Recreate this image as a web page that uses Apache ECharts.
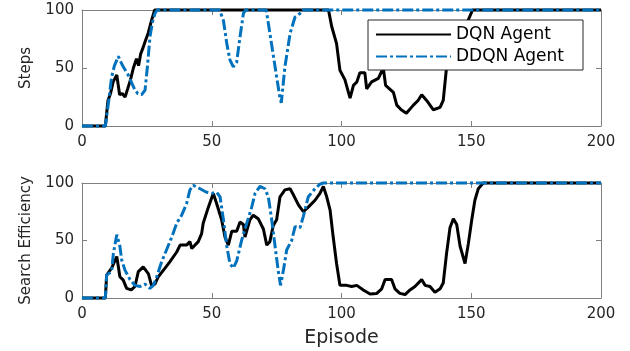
<!DOCTYPE html>
<html>
<head>
<meta charset="utf-8">
<script src="https://cdn.jsdelivr.net/npm/echarts@6/dist/echarts.min.js"></script>
<style>html,body{margin:0;padding:0;background:#fff}#c{width:630px;height:351px}</style>
</head>
<body>
<div id="c"></div>
<script>
// ---- data ----
const xTicks = [0, 50, 100, 150, 200];
const yTicks = [0, 50, 100];

const stepsDqnEp = [0,9,10,11,12,13.4,14.5,15.5,16.6,17.6,18.7,19.8,21,21.8,22.6,23.6,24.5,25.5,26.8,28,95,96.2,98.1,99.4,101.3,103.3,104.6,105.9,107.1,109,109.7,111.6,114.2,116.1,117,120,121.3,123,125,127.7,129.5,130.9,132.8,135.4,138,139.2,140.5,142,145,148,150.5,200];
const stepsDqn   = [0,0,22,28,38,44,27,28,25,32,40,50,58,52,62,68,74,80,91,100,100,86,71,48,40,24,35,38,46,46,32,38,41,50,35,29,18,14,11,18,22,27,22,14,16,22,51,60,73,87,100,100];

const stepsDdqnEp = [0,9,10.3,11.4,12.5,14,15,15.9,17.8,19,20.4,21.5,23,24.3,25.2,26.2,27.2,28.1,29,53,54.5,55.8,57,58.3,59.6,60.9,62.2,63,71,72.4,74.4,76.3,76.8,78.2,80.2,82.1,84,85,200];
const stepsDdqn   = [0,0,22,42,52,60,55,51,44,38,31,28,27,31,51,77,90,97,100,100,91,71,57,51,55,77,97,100,100,80,51,24,20,51,80,94,97,100,100];

const effDqnEp = [0,9,9.5,11.4,13.4,14.6,15.9,17.2,19,20.4,21.7,23.6,25.6,26.8,28.1,29.4,32,33.9,36.5,37.8,40.3,41.6,42.3,44.8,46.1,46.7,48.7,50.6,51.9,53.8,55.1,56.4,57.7,59.6,60.9,62.2,62.8,64.7,66,67.9,69.9,71.2,72.4,73.7,75,76.3,78.2,80.2,81.4,83.4,85.3,87.2,89.8,91.7,93,94.3,95.6,96.8,98.1,99.4,102,103.9,105.9,108.4,111,113.6,115.5,116.8,119.3,120.6,122.5,124.5,126.4,128.3,130.9,132.2,134.1,136,138,139.2,140.5,141.8,143.1,144.4,145.7,147.6,148.9,150.2,151.4,152.7,154.6,200];
const effDqn   = [0,0,20,26,36,18.5,15.6,8.4,7,10,23,27,21,11,12,18.5,26,31.6,40,46,46,49,43,49,56,65,79,91,82,68,53,46,58,58,66,64,53,68,72,69,60,46,49,63,68,88,94,95,90,81,75,79,85,91,97,88,76.5,53,30,11,11,10,11,7,3.5,4,8,16,16,8,4,3,7,10,16,11,10,5,8,13,39,61,69,64,45,30,47.5,68,85,95,100,100];

const effDdqnEp = [0,9,9.5,11.4,12.1,13.4,14,14.6,15.3,16.6,18.5,20.4,22.4,24.3,26.2,27.5,28.8,30.7,32.6,34.6,36.5,38.4,40.3,41.6,42.9,45.5,48,50,51.9,53.2,54.5,55.8,57,58.3,59.6,61.5,63.5,65.4,66.7,68.6,70.5,71.8,73.1,74.4,75.6,76.5,77.6,78.9,80.8,82.1,84,85.3,87.2,89.8,91.7,93,200];
const effDdqn   = [0,0,20,23,39,55,50,45,33,24,16,11,10,12,8.4,11,18.5,31.6,42,53,65,72,82,94,98,95,92,91,92,88,68,45,30,26,32,50,65,79,91,97,95,88,68,45,24,11,24,42,50,62,61,71,88,95,99,100,100];

const seriesNames = ['DQN Agent', 'DDQN Agent'];

// ---- chart ----
const pairs = (xs, ys) => xs.map((x, i) => [x, ys[i]]);
const axisColor = '#808080';
const textColor = '#262626';
const tickFont = 'DejaVu Sans';

function xAx(gi, pos, showLabel, name) {
  return {
    type: 'value', gridIndex: gi, position: pos, min: xTicks[0], max: xTicks[xTicks.length-1], interval: 50,
    axisLine: {show: true, onZero: false, lineStyle: {color: axisColor, width: 1}},
    axisTick: {show: true, inside: true, length: 5, lineStyle: {color: axisColor}},
    axisLabel: {show: showLabel, color: textColor, fontFamily: tickFont, fontSize: 15, margin: 9},
    splitLine: {show: false},
    name: name || '', nameLocation: 'middle', nameGap: 31,
    nameTextStyle: {color: textColor, fontFamily: tickFont, fontSize: 19}
  };
}
function yAx(gi, pos, showLabel, name) {
  return {
    type: 'value', gridIndex: gi, position: pos, min: yTicks[0], max: yTicks[yTicks.length-1], interval: 50,
    axisLine: {show: true, onZero: false, lineStyle: {color: axisColor, width: 1}},
    axisTick: {show: true, inside: true, length: 5, lineStyle: {color: axisColor}},
    axisLabel: {show: showLabel, color: textColor, fontFamily: tickFont, fontSize: 15, margin: 8},
    splitLine: {show: false},
    name: name || '', nameLocation: 'middle', nameGap: 48,
    nameTextStyle: {color: textColor, fontFamily: tickFont, fontSize: 15}
  };
}
const blackStyle = {color: '#000000', width: 3, type: 'solid'};
const blueStyle = {color: '#0072BD', width: 3, type: [11, 3, 3, 3], cap: 'butt'};
function ser(name, xi, data, style) {
  return {
    name: name, type: 'line', xAxisIndex: xi, yAxisIndex: xi, data: data,
    symbol: 'none', showSymbol: false, clip: false, smooth: false,
    lineStyle: style, itemStyle: {color: style.color}, emphasis: {disabled: true}
  };
}

const chart = echarts.init(document.getElementById('c'), null, {renderer: 'canvas'});
chart.setOption({
  animation: false,
  backgroundColor: '#ffffff',
  grid: [
    {left: 82, top: 10, width: 519, height: 116},
    {left: 82, top: 183, width: 519, height: 115}
  ],
  xAxis: [xAx(0, 'bottom', true), xAx(1, 'bottom', true, 'Episode'), xAx(0, 'top', false), xAx(1, 'top', false)],
  yAxis: [yAx(0, 'left', true, 'Steps'), yAx(1, 'left', true, 'Search Efficiency'), yAx(0, 'right', false), yAx(1, 'right', false)],
  legend: {
    data: seriesNames, orient: 'vertical', left: 368, top: 20,
    itemWidth: 75, itemHeight: 14, itemGap: 5,
    padding: [6, 19, 5, 7],
    backgroundColor: '#ffffff', borderColor: '#262626', borderWidth: 1, borderRadius: 0,
    itemStyle: {opacity: 0},
    textStyle: {color: '#000', fontFamily: tickFont, fontSize: 17, lineHeight: 14},
    selectedMode: false
  },
  series: [
    ser(seriesNames[0], 0, pairs(stepsDqnEp, stepsDqn), blackStyle),
    ser(seriesNames[1], 0, pairs(stepsDdqnEp, stepsDdqn), blueStyle),
    ser(seriesNames[0], 1, pairs(effDqnEp, effDqn), blackStyle),
    ser(seriesNames[1], 1, pairs(effDdqnEp, effDdqn), blueStyle)
  ]
});
</script>
</body>
</html>
